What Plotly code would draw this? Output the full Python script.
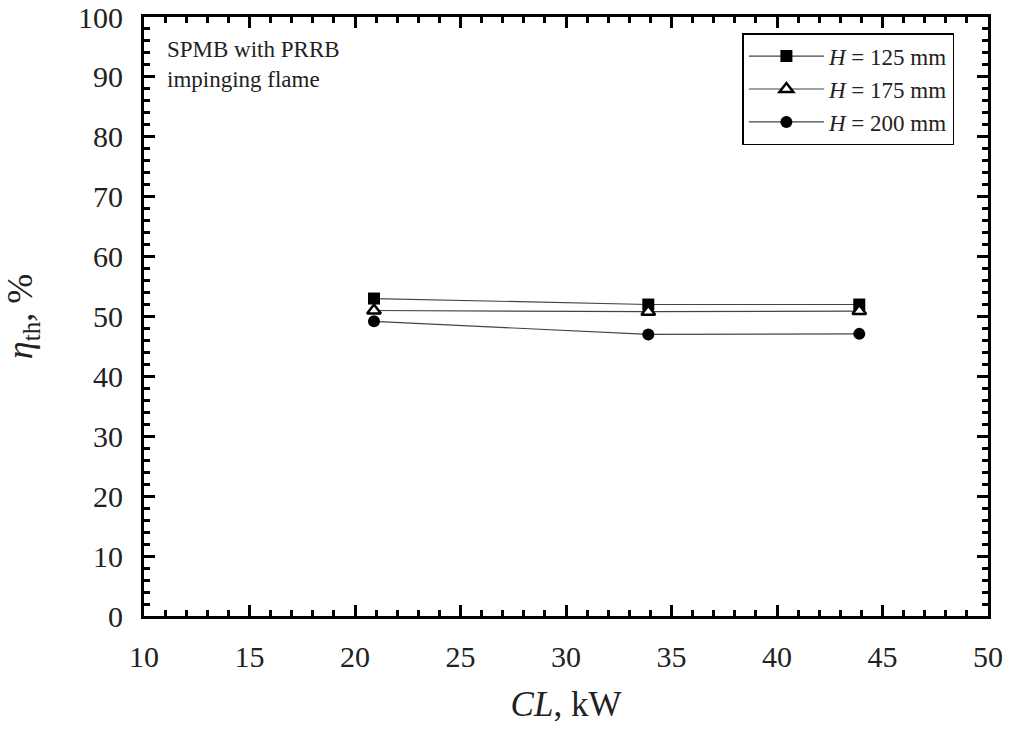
import plotly.graph_objects as go

cl = [20.9, 33.9, 43.9]
eta_125 = [53.0, 52.0, 52.0]
eta_175 = [51.0, 50.8, 50.9]
eta_200 = [49.2, 47.0, 47.1]
names = ["<i>H</i> = 125 mm", "<i>H</i> = 175 mm", "<i>H</i> = 200 mm"]

FONT = "Liberation Serif, Times New Roman, serif"

fig = go.Figure()
fig.add_trace(go.Scatter(x=cl, y=eta_125, name=names[0], mode="lines+markers",
                         line=dict(color="#444", width=1.2),
                         marker=dict(symbol="square", size=12, color="black")))
fig.add_trace(go.Scatter(x=cl, y=eta_175, name=names[1], mode="lines+markers",
                         line=dict(color="#444", width=1.2),
                         marker=dict(symbol="triangle-up", size=12, color="white",
                                     line=dict(color="black", width=2.5))))
fig.add_trace(go.Scatter(x=cl, y=eta_200, name=names[2], mode="lines+markers",
                         line=dict(color="#444", width=1.2),
                         marker=dict(symbol="circle", size=12, color="black")))

axis_common = dict(showline=True, linecolor="black", linewidth=3, mirror="allticks",
                   ticks="inside", ticklen=11, tickwidth=3, tickcolor="black",
                   showgrid=False, zeroline=False, ticklabelstandoff=12, automargin=False,
                   tickfont=dict(family=FONT, size=30, color="#222"))

fig.update_xaxes(range=[10, 50], tick0=10, dtick=5,
                 minor=dict(ticks="inside", ticklen=6, tickwidth=2.5, dtick=1, tickcolor="black"),
                 title=dict(text="<i>CL</i>, kW", font=dict(family=FONT, size=35, color="#222"), standoff=20),
                 **axis_common)
fig.update_yaxes(range=[0, 100], tick0=0, dtick=10,
                 minor=dict(ticks="inside", ticklen=6, tickwidth=2.5, dtick=2, tickcolor="black"),
                 title=dict(text="<i>η</i><sub>th</sub>, %", font=dict(family=FONT, size=36, color="#222"), standoff=36),
                 **axis_common)

fig.add_annotation(x=0.025, y=0.97, xref="paper", yref="paper", xanchor="left", yanchor="top",
                   text="SPMB with PRRB<br>impinging flame", showarrow=False, align="left",
                   font=dict(family=FONT, size=23, color="#222"))

fig.update_layout(
    width=1017, height=735,
    margin=dict(l=144, r=29, t=17, b=119),
    plot_bgcolor="white", paper_bgcolor="white",
    legend=dict(x=0.709, y=0.973, xanchor="left", yanchor="top",
                bordercolor="black", borderwidth=1.5, bgcolor="white",
                font=dict(family=FONT, size=23, color="#222"),
                itemwidth=75, tracegroupgap=14),
)

fig.write_html("out.html")
